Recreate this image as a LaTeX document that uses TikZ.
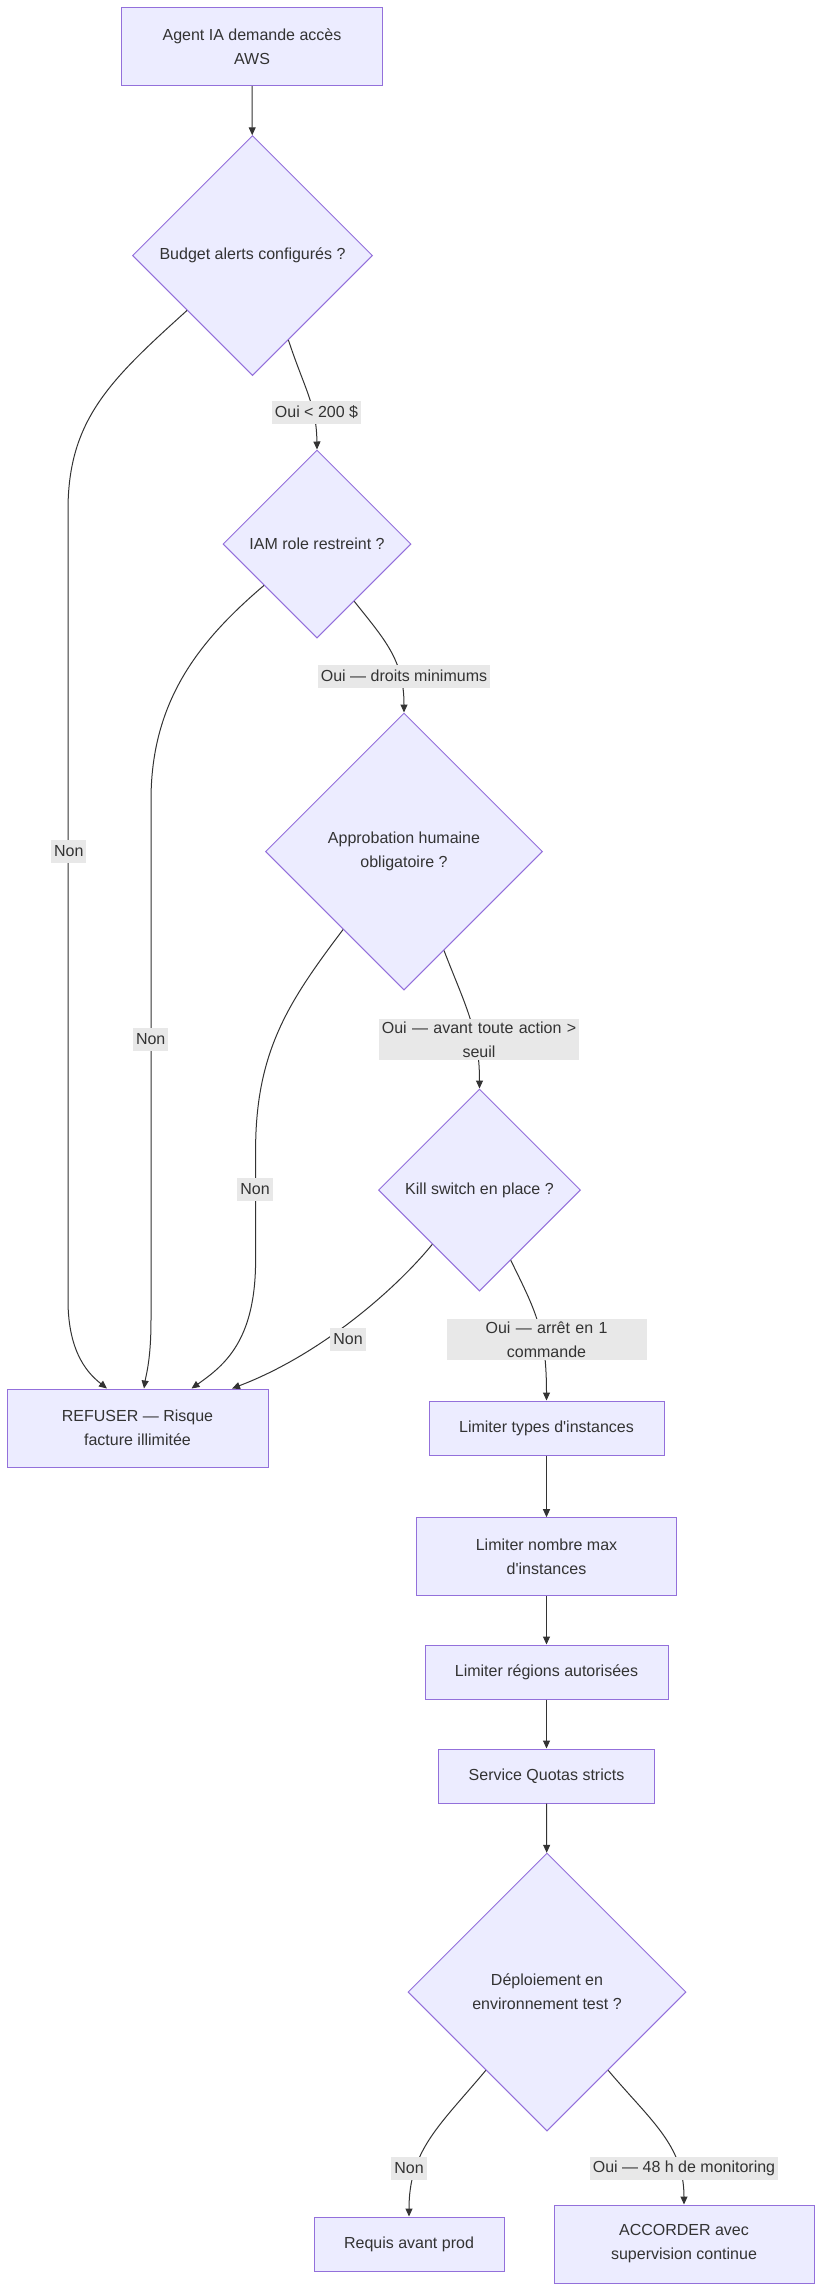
\documentclass[tikz,border=0pt]{standalone}
\usepackage{fontspec}
\setmainfont{Liberation Sans}[Ligatures=TeXOff]
\usetikzlibrary{shapes.geometric,arrows.meta}
\definecolor{nodefill}{HTML}{ECECFF}
\definecolor{nodeline}{HTML}{9370DB}
\definecolor{edgecol}{HTML}{333333}
\definecolor{lblfill}{HTML}{E8E8E8}
\definecolor{txt}{HTML}{333333}
\begin{document}
\begin{tikzpicture}[x=1pt,y=-1pt,
  font=\fontsize{16}{24}\selectfont,
  box/.style={draw=nodeline, fill=nodefill, line width=1pt, inner sep=0pt, align=center, text=txt},
  dia/.style={diamond, aspect=1, draw=nodeline, fill=nodefill, line width=1pt, inner sep=0pt, align=center, text=txt},
  conn/.style={draw=edgecol, line width=1pt, -{Triangle[length=8pt,width=7pt]}},
  lbl/.style={fill=lblfill, inner xsep=3pt, inner ysep=0pt, minimum height=23pt, align=center, text=txt},
  lbltwo/.style={fill=lblfill, inner xsep=1pt, inner ysep=3pt, text width=198pt, align=center, text=txt}]
\useasboundingbox (0,0) rectangle (823,2292);
\fill[white] (0,0) rectangle (823,2292);

% nodes
\node[box, minimum width=261pt, minimum height=78pt] (A) at (252,46.5) {Agent IA demande accès\\AWS};
\node[dia, minimum width=240pt, minimum height=240pt] (B) at (252.5,255.5) {Budget alerts configurés ?};
\node[dia, minimum width=188pt, minimum height=188pt] (C) at (317,544) {IAM role restreint ?};
\node[dia, minimum width=277pt, minimum height=277pt] (D) at (404,851.5) {Approbation humaine\\obligatoire ?};
\node[dia, minimum width=202pt, minimum height=202pt] (E) at (479.5,1190) {Kill switch en place ?};
\node[box, minimum width=261pt, minimum height=78pt] (R) at (137.5,1428) {REFUSER — Risque\\facture illimitée};
\node[box, minimum width=235pt, minimum height=54pt] (F) at (546.5,1428) {Limiter types d'instances};
\node[box, minimum width=260pt, minimum height=78pt] (G) at (546.5,1556.7) {Limiter nombre max\\d'instances};
\node[box, minimum width=243pt, minimum height=54pt] (H) at (546.5,1672) {Limiter régions autorisées};
\node[box, minimum width=216pt, minimum height=54pt] (I) at (546.5,1776) {Service Quotas stricts};
\node[dia, minimum width=278pt, minimum height=278pt] (J) at (547,1992) {Déploiement en\\environnement test ?};
\node[box, minimum width=190pt, minimum height=54pt] (K) at (409,2244) {Requis avant prod};
\node[box, minimum width=260pt, minimum height=78pt] (L) at (684,2244) {ACCORDER avec\\supervision continue};

% connectors
\draw[conn] (A) -- (B);
\draw[conn] (B.-67.6) .. controls (305,390) and (316.5,405) .. (C.north);
\draw[conn] (C.-57) .. controls (385,640) and (404,660) .. (D.north);
\draw[conn] (D.-68.3) .. controls (465,1005) and (479.5,1030) .. (E.north);
\draw[conn] (E.-66) .. controls (535,1310) and (546.5,1330) .. (F.north);
\draw[conn] (F) -- (G);
\draw[conn] (G) -- (H);
\draw[conn] (H) -- (I);
\draw[conn] (I) -- (J);
\draw[conn] (J.-128) .. controls (440,2125) and (409,2150) .. (K.north);
\draw[conn] (J.-52) .. controls (650,2120) and (684,2145) .. (L.north);

\draw[conn] (B.-140) .. controls (110,380) and (68,420) .. (68,510) -- (68,1300)
  .. controls (68,1355) and (90,1375) .. ([xshift=-30.5pt]R.north);
\draw[conn] (C.-142) .. controls (200,640) and (151,700) .. (151,800) -- (151,1320)
  .. controls (151,1360) and (146,1375) .. ([xshift=6.5pt]R.north);
\draw[conn] (D.-128) .. controls (290,1000) and (255.6,1050) .. (255.6,1150) -- (255.6,1260)
  .. controls (255.6,1340) and (225,1365) .. ([xshift=54pt]R.north);
\draw[conn] (E.-131.6) .. controls (395,1290) and (320,1355) .. ([xshift=94.5pt]R.north);

% labels
\node[lbl] (l1) at (316.5,412.5) {Oui < 200 \$};
\node[lbl] (l2) at (404,676) {Oui — droits minimums};
\node[lbltwo] (l3) at (479,1039.5) {Oui — avant toute action >\\seuil};
\node[lbltwo] (l4) at (546.5,1339.5) {Oui — arrêt en 1\\commande};
\node[lbl] (n1) at (68.8,851.5) {Non};
\node[lbl] (n2) at (150.7,1039) {Non};
\node[lbl] (n3) at (255,1189) {Non};
\node[lbl] (n4) at (348,1339) {Non};
\node[lbl] (n5) at (409,2168) {Non};
\node[lbl] (l5) at (684,2168) {Oui — 48 h de monitoring};
\end{tikzpicture}
\end{document}
